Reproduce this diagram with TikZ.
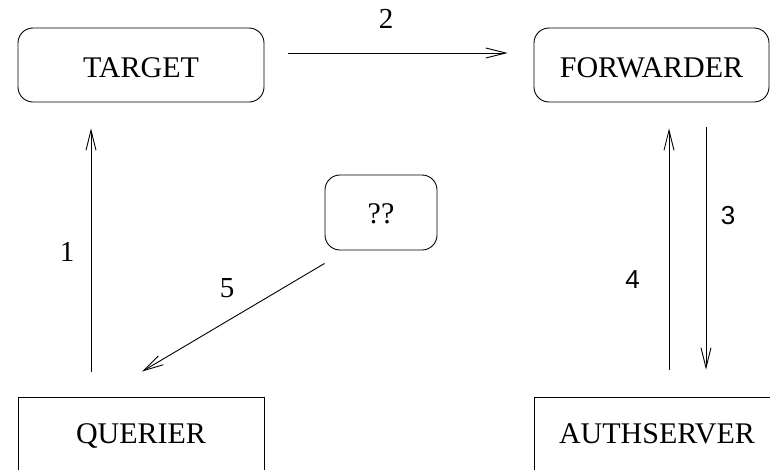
\documentclass[tikz,border=0pt]{standalone}
\usepackage{fontspec}
\setmainfont{Liberation Serif}
\newfontfamily\sansnum{Liberation Sans}
\usetikzlibrary{arrows.meta}
\tikzset{
  x=1pt, y=1pt,
  boxbase/.style={draw, line width=0.9pt, inner sep=0pt, font=\fontsize{30}{35}\selectfont},
  rbox/.style={boxbase, rounded corners=15pt, text height=25.5pt, text depth=0pt},
  sbox/.style={boxbase, text height=19.8pt, text depth=0pt},
  arr/.style={line width=0.9pt, -{Straight Barb[length=20pt,width=10pt]}},
  serifnum/.style={font=\fontsize{29}{34}\selectfont},
  sansnumlbl/.style={font=\sansnum\fontsize{26}{31}\selectfont},
}
\begin{document}
\begin{tikzpicture}
\useasboundingbox (0,0) rectangle (770,-469);
\clip (0,0) rectangle (770,-469);
\node[rbox, minimum width=246pt, minimum height=74pt] (target) at (141,-65) {TARGET};
\node[rbox, minimum width=235pt, minimum height=74pt] (forwarder) at (651.5,-65) {FORWARDER};
\node[rbox, minimum width=112pt, minimum height=75pt, text height=22pt] (qq) at (381,-212.5) {??};
\node[sbox, minimum width=246pt, minimum height=74pt] (querier) at (141,-434) {QUERIER};
\node[sbox, minimum width=246pt, minimum height=74pt] (authserver) at (657,-434) {AUTHSERVER};

\draw[arr] ([xshift=-50pt,yshift=25pt]querier.north) -- ([xshift=-50pt,yshift=-26pt]target.south);
\draw[arr] ([xshift=24pt,yshift=12pt]target.east) -- ([xshift=-26pt,yshift=12pt]forwarder.west);
\draw[arr] ([xshift=54.5pt,yshift=-25pt]forwarder.south) -- ([xshift=49pt,yshift=27pt]authserver.north);
\draw[arr] ([xshift=12pt,yshift=27pt]authserver.north) -- ([xshift=17.5pt,yshift=-26pt]forwarder.south);
\draw[arr] ([yshift=-13pt]qq.south west) -- ([xshift=1pt,yshift=25pt]querier.north);

\node[serifnum] (l1) at (67,-252) {1};
\node[serifnum] (l2) at (386,-19) {2};
\node[sansnumlbl] (l3) at (728,-216) {3};
\node[sansnumlbl] (l4) at (632.5,-280) {4};
\node[serifnum] (l5) at (227,-288) {5};
\end{tikzpicture}
\end{document}
